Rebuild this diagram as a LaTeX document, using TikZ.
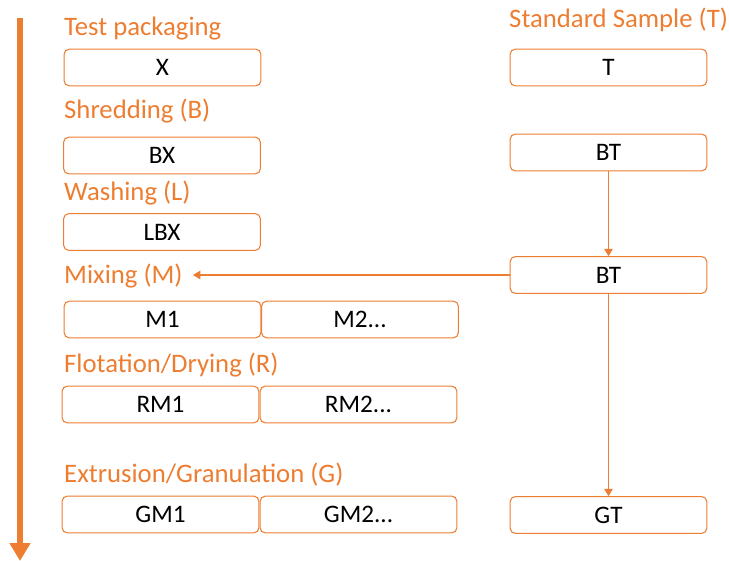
\documentclass[tikz,border=0pt]{standalone}
\usepackage{fontspec}
\setmainfont{Carlito}
\usetikzlibrary{arrows.meta}
\definecolor{pkorange}{HTML}{ED7D31}

\begin{document}
\begin{tikzpicture}[x=0.03cm,y=-0.03cm,
    box/.style={draw=pkorange,line width=0.9pt,rounded corners=0.15cm,fill=white,
      minimum width=5.9cm,minimum height=1.1cm,inner sep=0pt,
      font=\fontsize{21.5}{24}\selectfont},
    stage/.style={text=pkorange,anchor=base west,inner sep=0pt,
      font=\fontsize{22.8}{26}\selectfont},
    flow/.style={pkorange,line width=0.9pt,-{Triangle[width=0.26cm,length=0.22cm]}}]
  \useasboundingbox (0,0) rectangle (729,561);
  % time axis
  \coordinate (axtop) at (20,18);
  \coordinate (axbot) at (20,561);
  \draw[pkorange,line width=5.5pt,-{Triangle[width=0.6cm,length=0.54cm]}] (axtop) -- (axbot);
  % stage titles
  \node[stage] (pack) at (64,35) {Test packaging};
  \node[stage] (shred) at (64,118) {Shredding (B)};
  \node[stage] (wash) at (64,200) {Washing (L)};
  \node[stage] (mix) at (64,283) {Mixing (M)};
  \node[stage] (flot) at (64,372) {Flotation/Drying (R)};
  \node[stage] (extr) at (64,482) {Extrusion/Granulation (G)};
  \node[stage] (std) at (509,27) {Standard Sample (T)};
  % test sample boxes
  \node[box] (x) at (162.5,67.5) {X};
  \node[box] (bx) at (162,155.5) {BX};
  \node[box] (lbx) at (162,232) {LBX};
  \node[box] (m1) at (162.5,319.5) {M1};
  \node[box] (m2) at (360,319.5) {M2...};
  \node[box] (rm1) at (160.5,404.5) {RM1};
  \node[box] (rm2) at (358.5,404.5) {RM2...};
  \node[box] (gm1) at (160.5,514.5) {GM1};
  \node[box] (gm2) at (358.5,514.5) {GM2...};
  % standard sample boxes
  \node[box] (t) at (608.5,67.5) {T};
  \node[box] (bt1) at (608.5,152.5) {BT};
  \node[box] (bt2) at (608.5,275) {BT};
  \node[box] (gt) at (608.5,515) {GT};
  % connectors
  \coordinate (mixtip) at (193,275);
  \draw[flow] (bt1) -- (bt2);
  \draw[flow] (bt2) -- (gt);
  \draw[flow] (bt2.west) -- (mixtip);
\end{tikzpicture}
\end{document}
